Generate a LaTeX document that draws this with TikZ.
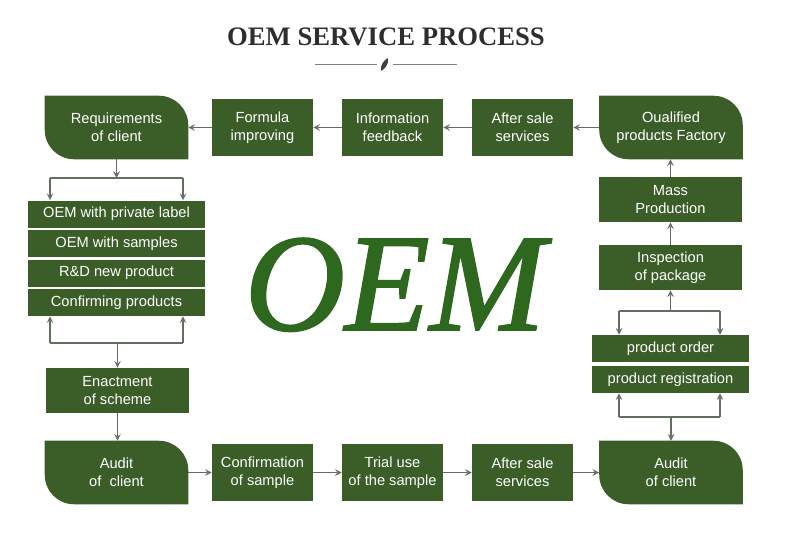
\documentclass[tikz,border=0pt]{standalone}
\usepackage{fontspec}
\setsansfont{Liberation Sans}
\newfontfamily\titlefont{Liberation Serif}
\newfontfamily\oemfont[FakeBold=1.4]{Liberation Serif Italic}
\usepackage{tikz}
\usetikzlibrary{backgrounds}
\definecolor{boxgreen}{RGB}{59,94,41}
\definecolor{oemgreen}{RGB}{46,104,30}
\definecolor{linegray}{RGB}{98,110,96}

\begin{document}
\begin{tikzpicture}[x = 0.75pt, y = -0.75pt,
	greenbox/.style = {fill=boxgreen, text=white, font=\sffamily\fontsize{11}{13.5}\selectfont, align=center, inner sep=0pt},
	roundbox/.style = {greenbox, fill=none, minimum width=107.25pt, minimum height=47.25pt},
	rowbox/.style = {greenbox, minimum width=75.75pt, minimum height=42.75pt},
	colbox/.style = {greenbox, minimum width=107.25pt, minimum height=33.75pt},
	listbox/.style = {greenbox, minimum height=20.25pt},
	link/.style = {draw=linegray, line width=1.2pt},
	arrow/.style = {link, ->, >=stealth}]

\useasboundingbox (0,0) rectangle (789,532);

\node[font=\titlefont\bfseries\fontsize{20}{24}\selectfont, text=black!82] (title) at (386,37) {OEM SERVICE PROCESS};
\draw[gray] (315,64)--(377,64);
\draw[gray] (393,64)--(457,64);
\fill[black!75] (381,71) .. controls (380,65) and (384,60) .. (388,58) .. controls (389,64) and (385,69) .. (381,71) -- cycle;

\node[anchor = base, font=\oemfont\fontsize{104}{104}\selectfont, text=oemgreen] (oem) at (395,330) {OEM};

\node[roundbox] (req) at (116.5,127.5) {Requirements\\of client};
\node[rowbox] (formula) at (262.5,127.5) {Formula\\improving};
\node[rowbox] (info) at (392.5,127.5) {Information\\feedback};
\node[rowbox] (aftertop) at (522.5,127.5) {After sale\\services};
\node[roundbox] (qual) at (671,127.5) {Oualified\\products Factory};
\node[colbox] (mass) at (670.5,199.5) {Mass\\Production};
\node[colbox] (insp) at (670.5,267.5) {Inspection\\of package};
\node[listbox, minimum width=117.75pt] (order) at (670.5,348.5) {product order};
\node[listbox, minimum width=117.75pt] (reg) at (670.5,379.5) {product registration};
\node[roundbox] (auditR) at (671,472.5) {Audit\\of client};
\node[rowbox] (afterbot) at (522.5,472.5) {After sale\\services};
\node[rowbox] (trial) at (392.5,472.5) {Trial use\\of the sample};
\node[rowbox] (confirm) at (262.5,472.5) {Confirmation\\of sample};
\node[roundbox] (auditL) at (116.5,472.5) {Audit\\of~~client};
\node[colbox] (enact) at (117.5,390.5) {Enactment\\of scheme};

\foreach \name/\y/\txt in {private/214/OEM with private label, samples/243.5/OEM with samples, rd/273/R\&D new product, confirming/302.5/Confirming products} {
	\node[listbox, minimum width=132.75pt] (\name) at (116.5,\y) {\txt};
}

\begin{scope}[on background layer]
\foreach \n in {req, qual, auditL, auditR} {
	\fill[boxgreen] (\n.north west) -- ([xshift=-22pt]\n.north east) arc[start angle=90, end angle=0, radius=22pt] -- (\n.south east) -- ([xshift=22pt]\n.south west) arc[start angle=270, end angle=180, radius=22pt] -- cycle;
}
\end{scope}

\draw[arrow] (qual.west)--(aftertop.east);
\draw[arrow] (aftertop.west)--(info.east);
\draw[arrow] (info.west)--(formula.east);
\draw[arrow] (formula.west)--(req.east);

\coordinate (la) at (50,178);
\coordinate (lb) at (183,178);
\draw[arrow] (req.south)--(req.south |- la);
\draw[link] (la)--(lb);
\draw[arrow] (la)--(la |- private.north);
\draw[arrow] (lb)--(lb |- private.north);

\coordinate (lc) at (50,343);
\coordinate (ld) at (183,343);
\draw[link] (lc)--(ld);
\draw[arrow] (lc)--(lc |- confirming.south);
\draw[arrow] (ld)--(ld |- confirming.south);
\draw[arrow] (enact.north |- lc)--(enact.north);
\draw[arrow] (enact.south)--(enact.south |- auditL.north);

\draw[arrow] (auditL.east)--(confirm.west);
\draw[arrow] (confirm.east)--(trial.west);
\draw[arrow] (trial.east)--(afterbot.west);
\draw[arrow] (afterbot.east)--(auditR.west);

\coordinate (rc) at (619,417);
\coordinate (rd) at (720,417);
\draw[arrow] (auditR.north |- rc)--(auditR.north);
\draw[link] (rc)--(rd);
\draw[arrow] (rc)--(rc |- reg.south);
\draw[arrow] (rd)--(rd |- reg.south);

\coordinate (ra) at (619,311);
\coordinate (rb) at (720,311);
\draw[link] (ra)--(rb);
\draw[arrow] (ra)--(ra |- order.north);
\draw[arrow] (rb)--(rb |- order.north);
\draw[arrow] (insp.south |- ra)--(insp.south);
\draw[arrow] (insp.north)--(mass.south);
\draw[arrow] (mass.north)--(mass.north |- qual.south);
\end{tikzpicture}
\end{document}
